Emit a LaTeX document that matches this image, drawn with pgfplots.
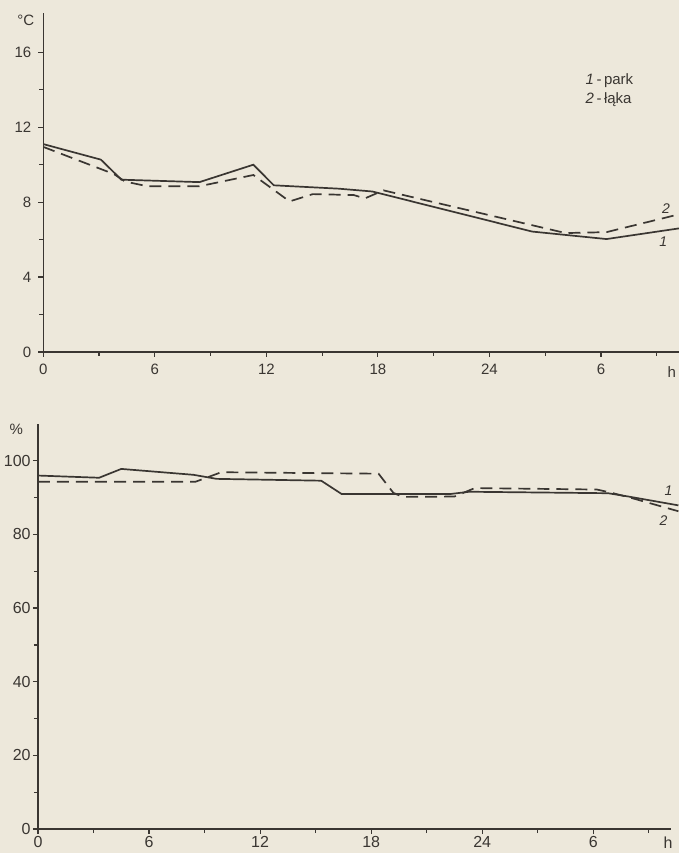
\documentclass[border=0pt]{standalone}
\usepackage{fontspec}
\setmainfont{Liberation Sans}
\usepackage{pgfplots}
\pgfplotsset{compat=1.18}

\definecolor{paper}{RGB}{237,232,219}
\definecolor{ink}{RGB}{58,54,50}

\pgfplotsset{
  panel/.style={
    scale only axis,
    axis lines=left,
    axis line style={ink, line width=0.75pt, -},
    xmin=0, xmax=34.2,
    xtick={0,6,...,30},
    xticklabels={0,6,12,18,24,6},
    minor xtick={3,9,...,33},
    tick align=outside,
    major tick length=2.5pt,
    minor tick length=2pt,
    tick style={ink, line width=0.6pt},
    ticklabel style={font=\fontsize{7.5}{9}\selectfont, text=ink},
    /pgf/number format/assume math mode=true,
    clip=false,
  },
  park/.style={ink, line width=0.85pt},
  laka/.style={ink, line width=0.85pt, dash pattern=on 6pt off 3.5pt},
}

\begin{document}
\begin{tikzpicture}
\fill[paper] (0,0) rectangle (339.5pt,426.5pt);
\useasboundingbox (0,0) rectangle (339.5pt,426.5pt);

% temperatura
\begin{axis}[panel,
  at={(21.65pt,250.5pt)}, anchor=south west,
  width=317.85pt, height=169.5pt,
  ymin=0, ymax=18.1,
  ytick={0,4,...,16}, minor ytick={2,6,...,14},
]
\addplot[park] coordinates {
  (0,11.1) (3.1,10.27) (4.2,9.2) (8.4,9.07) (11.3,10.0) (12.4,8.9)
  (15.9,8.72) (17.7,8.57) (26.3,6.43) (30.3,6.03) (34.2,6.6)
};
\addplot[laka] coordinates {
  (0,10.95) (3.8,9.5) (4.4,9.1) (5.6,8.85) (8.4,8.85) (11.3,9.45)
  (13.25,8.04) (14.5,8.43) (16.7,8.38) (17.3,8.2) (18.3,8.63)
  (28.1,6.35) (30.3,6.4) (34.2,7.35)
};
\node[anchor=east, text=ink, font=\fontsize{7.5}{9}\selectfont] at (rel axis cs:0,1) [xshift=-1pt, yshift=-3.5pt] {°C};
\node[anchor=north east, text=ink, font=\fontsize{7.5}{9}\selectfont] at (rel axis cs:1,0) [yshift=-4pt, xshift=2pt] {h};
\node[anchor=west, text=ink, font=\fontsize{7.5}{9}\selectfont] at (axis cs:28.8,14.5) {\textit{1}\,-\,park};
\node[anchor=west, text=ink, font=\fontsize{7.5}{9}\selectfont] at (axis cs:28.8,13.45) {\textit{2}\,-\,łąka};
\node[text=ink, font=\fontsize{7}{8}\selectfont\itshape] at (axis cs:33.5,7.65) {2};
\node[text=ink, font=\fontsize{7}{8}\selectfont\itshape] at (axis cs:33.35,5.88) {1};
\end{axis}

% wilgotnosc wzgledna
\begin{axis}[panel,
  at={(19pt,12pt)}, anchor=south west,
  width=316.5pt, height=202.5pt,
  ymin=0, ymax=110,
  ytick={0,20,...,100}, minor ytick={10,30,...,90},
  ticklabel style={font=\fontsize{8}{9}\selectfont},
  xticklabel style={inner sep=1pt},
  yticklabel style={inner sep=1pt},
]
\addplot[park] coordinates {
  (0,96.0) (3.3,95.4) (4.5,97.8) (8.4,96.2) (9.65,95.1) (15.3,94.6)
  (16.4,91.0) (22.3,91.0) (23.3,91.6) (30.8,91.2) (31.9,90.3) (34.6,87.9)
};
\addplot[laka] coordinates {
  (0,94.3) (8.5,94.3) (9.9,96.9) (18.4,96.5) (19.2,91.3) (19.7,90.2)
  (22.5,90.3) (23.6,92.6) (30.2,92.2) (31.0,91.3) (32.0,90.0) (34.6,86.3)
};
\node[anchor=east, text=ink, font=\fontsize{7.5}{9}\selectfont] at (rel axis cs:0,1) [xshift=-4pt, yshift=-2.5pt] {\%};
\node[anchor=north east, text=ink, font=\fontsize{8}{9}\selectfont, inner sep=1pt] at (rel axis cs:1,0) [yshift=-3pt, xshift=2pt] {h};
\node[text=ink, font=\fontsize{7}{8}\selectfont\itshape] at (axis cs:34.07,91.8) {1};
\node[text=ink, font=\fontsize{7}{8}\selectfont\itshape] at (axis cs:33.8,83.7) {2};
\end{axis}
\end{tikzpicture}
\end{document}
